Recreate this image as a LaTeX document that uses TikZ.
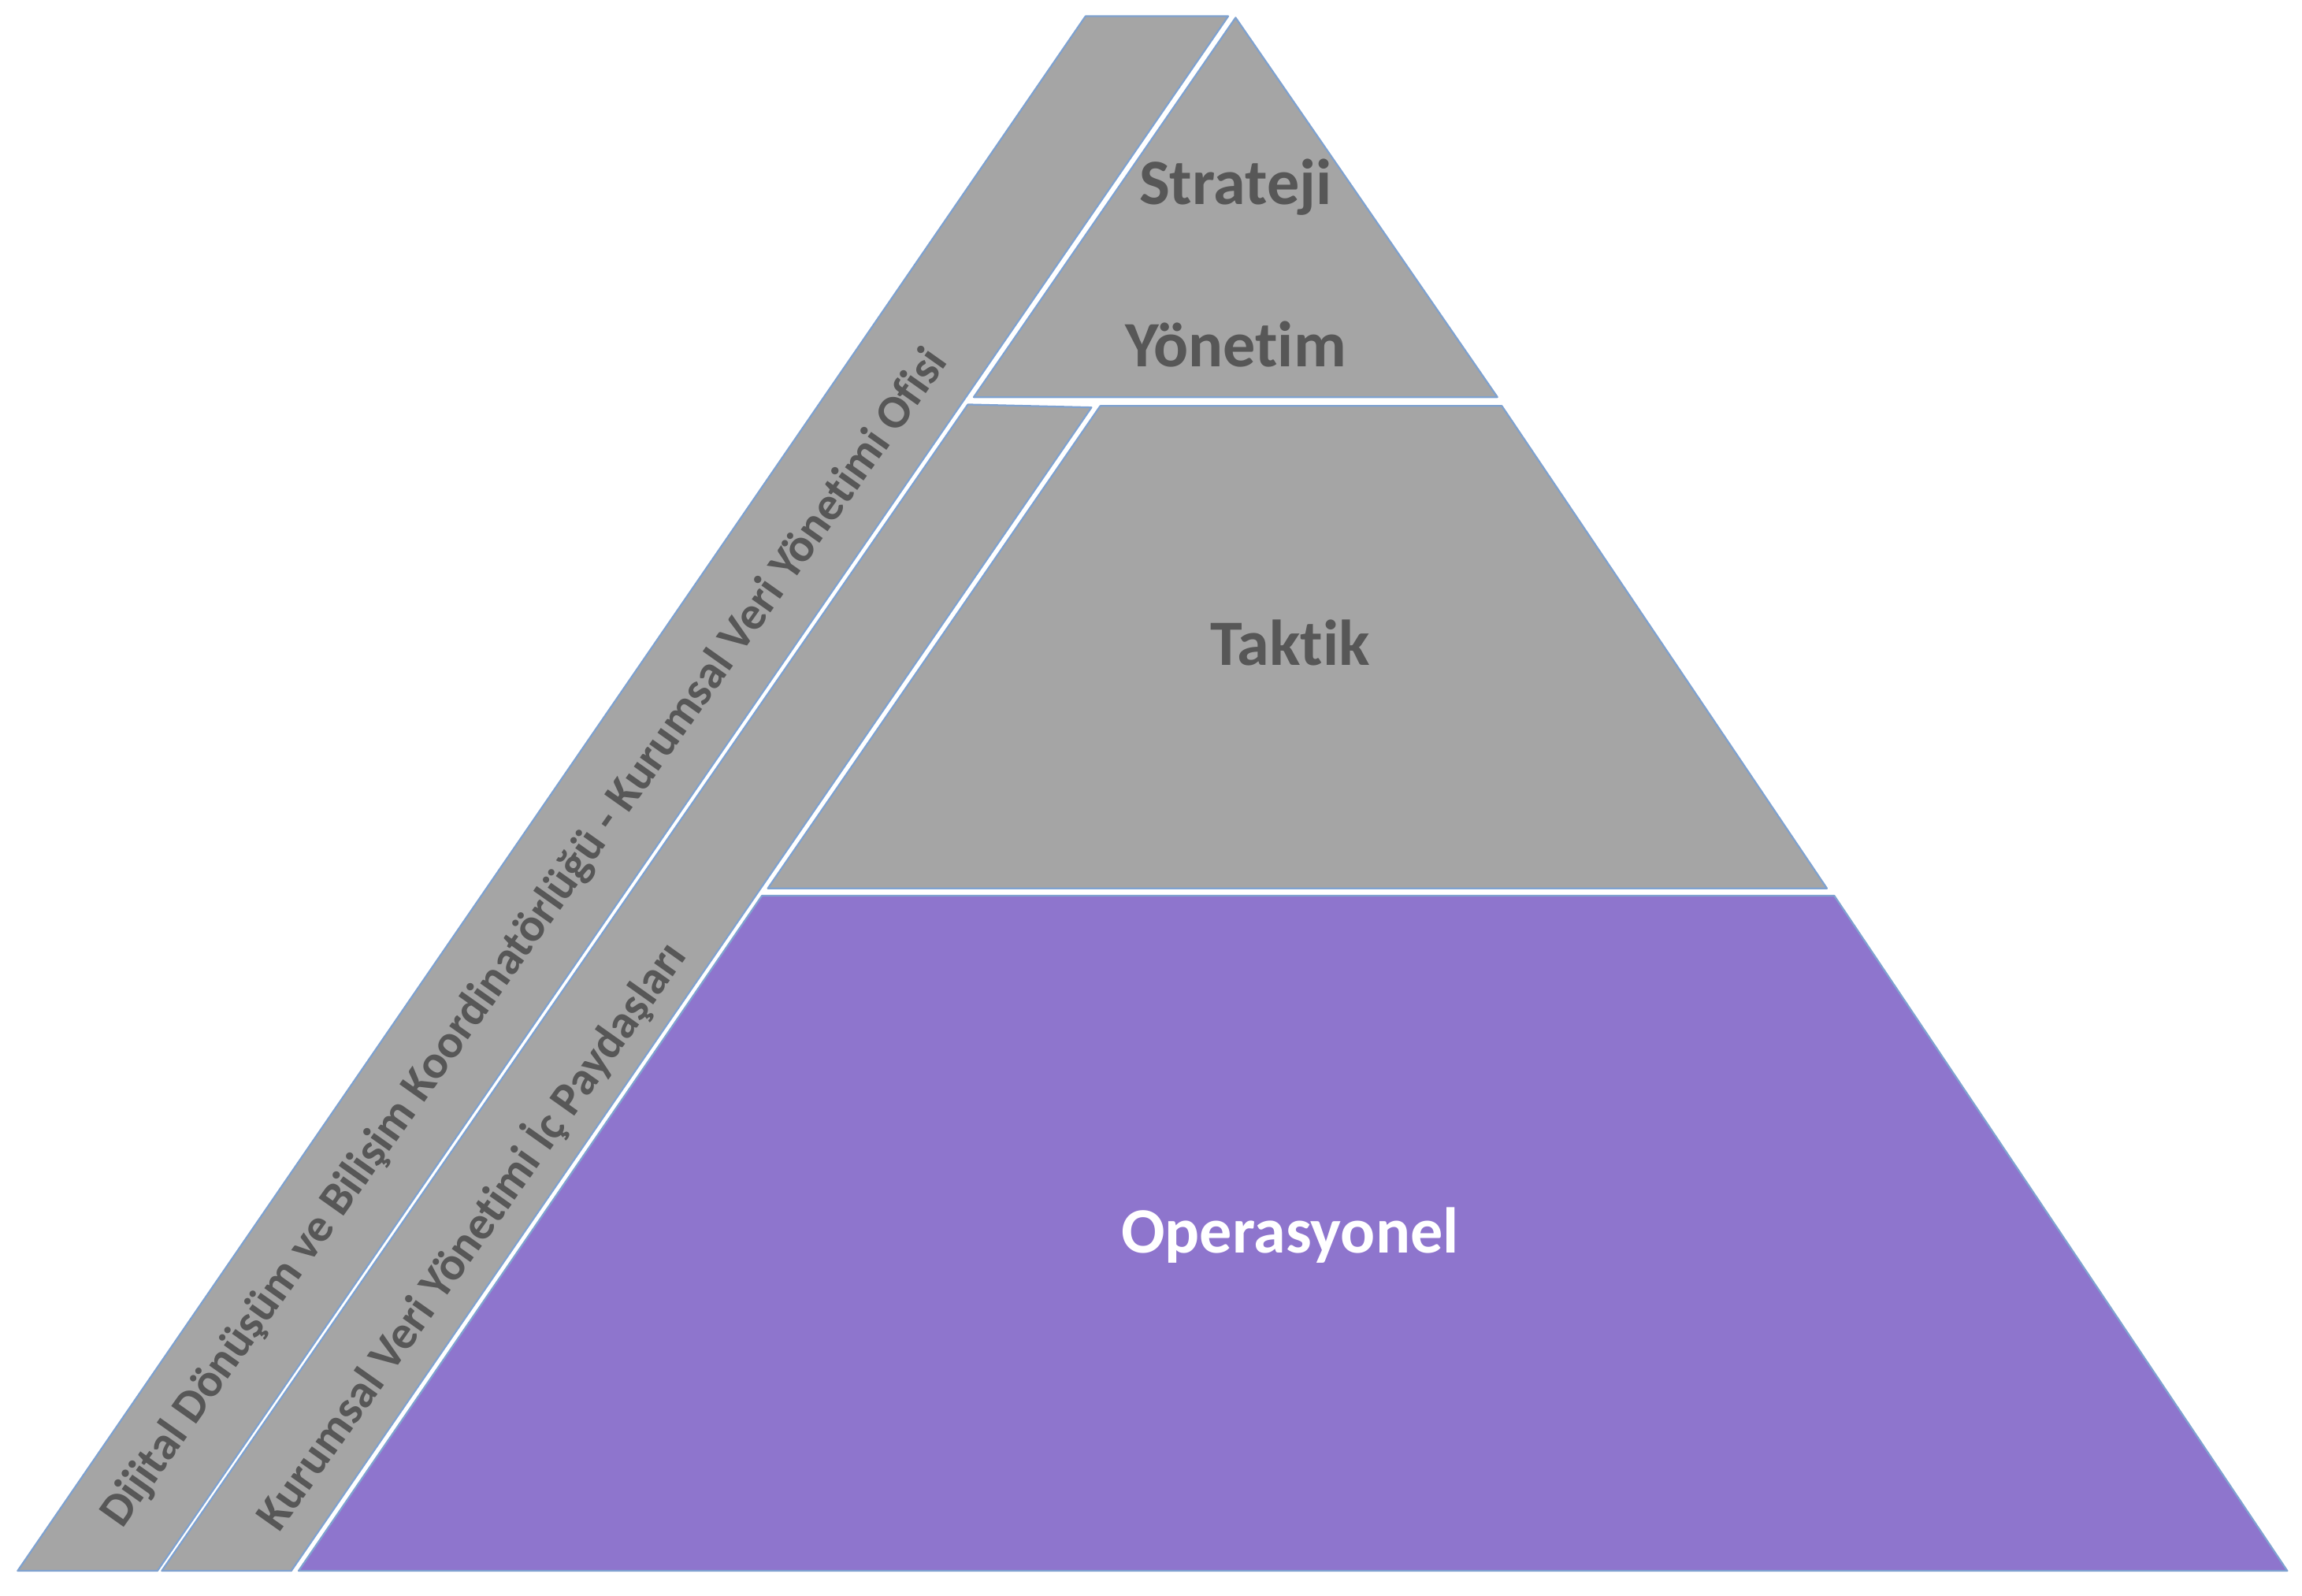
\documentclass[tikz,border=0pt]{standalone}
\usepackage{fontspec}
\setmainfont{Carlito}[Ligatures=NoCommon]
\definecolor{bandgray}{HTML}{A5A5A5}
\definecolor{opviolet}{HTML}{8E75CD}
\definecolor{edgeblue}{HTML}{7FA2D0}
\definecolor{labelgray}{HTML}{575757}
\tikzset{
  layer/.style={fill=bandgray,draw=edgeblue,line width=1.2pt,line join=round},
  levellabel/.style={font=\bfseries\fontsize{44}{48}\selectfont,text=labelgray},
  bandlabel/.style={font=\bfseries\fontsize{32}{35}\selectfont,text=labelgray,rotate=54.7}
}
\begin{document}
\begin{tikzpicture}[x=1pt,y=-1pt]
\useasboundingbox (0,0) rectangle (1565,1085);
% side bands
\draw [layer] (738,11) -- (835,11) -- (107,1068) -- (12,1068) -- cycle;
\draw [layer] (658,275) -- (742,277) -- (198,1068) -- (110,1068) -- cycle;
% pyramid levels
\draw [layer] (840,12) -- (1018,270) -- (662,270) -- cycle;
\draw [layer] (748,276) -- (1021,276) -- (1242,604) -- (522,604) -- cycle;
\draw [layer,fill=opviolet] (518,609) -- (1247,609) -- (1555,1068) -- (203,1068) -- cycle;
\node (strateji) [levellabel] at (840,127) {Strateji};
\node (yonetim) [levellabel] at (840,234) {Yönetim};
\node (taktik) [levellabel] at (877,437) {Taktik};
\node (operasyonel) [levellabel,text=white] at (877,840) {Operasyonel};
\node (ofis) [bandlabel] at (357,638) {Dijital Dönüşüm ve Bilişim Koordinatörlüğü - Kurumsal Veri Yönetimi Ofisi};
\node (paydas) [bandlabel] at (320,840) {Kurumsal Veri Yönetimi İç Paydaşları};
\end{tikzpicture}
\end{document}
